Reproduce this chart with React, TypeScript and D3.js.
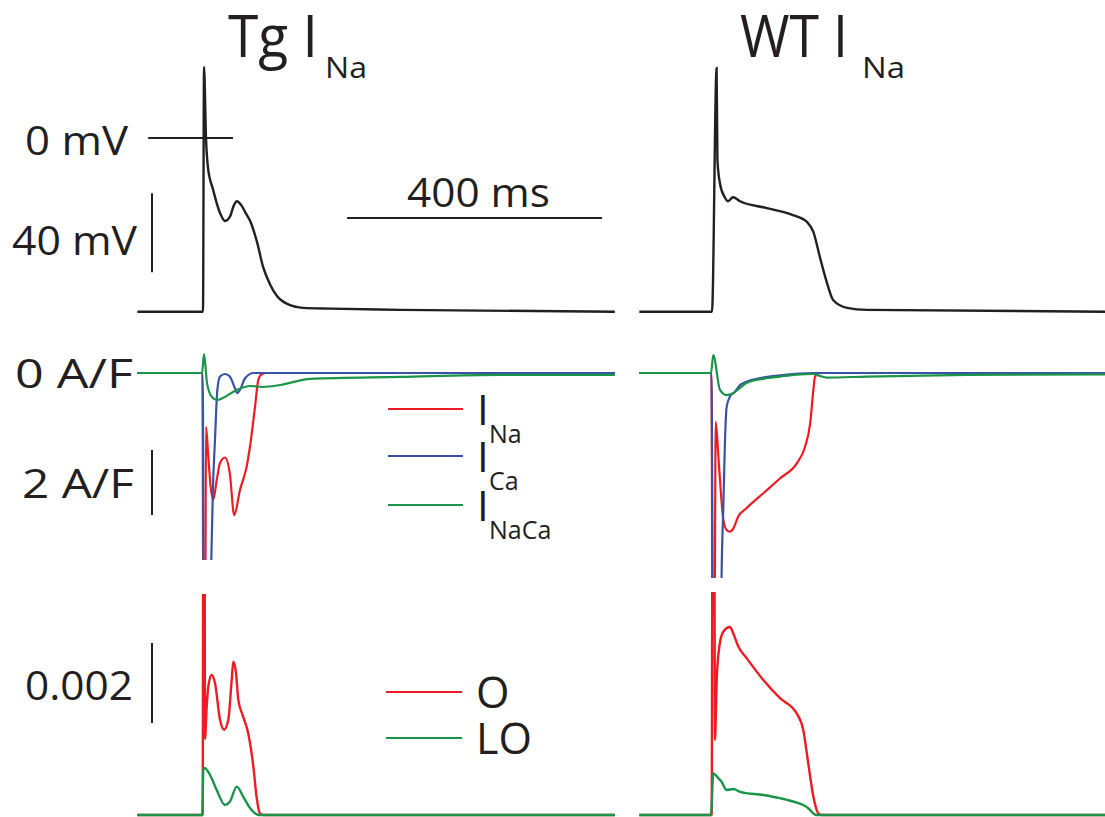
import React from 'react';
import * as d3 from 'd3';

type Pt = [number, number];

// ---- Data (time in ms relative to stimulus, values in mV, A/F, probability) ----
const tgAP: Pt[] = [[-103,-88],[0,-88],[1.6,36],[4.7,0],[7.8,-15],[15.7,-26],[26.7,-38],[34.5,-42],[42,-40],[48.6,-34],[53,-32],[60,-34],[67,-38],[74,-42],[85,-53],[94,-65],[105,-74],[116,-80],[132,-84],[157,-86],[200,-86.4],[309,-87],[646,-88]];
const wtAP: Pt[] = [[-114,-88],[0,-88],[7.2,35.5],[8.5,-11],[12.5,-23],[20,-30],[25,-32],[33,-30],[44,-32],[86,-35.5],[127,-39],[149,-42.5],[159,-47.5],[169,-60],[180,-73],[190,-82],[212,-86],[243,-87],[620,-88]];

const tgINa: Pt[] = [[-103,0],[-0.8,0],[0.5,-8],[3.5,-8],[4.7,-1.66],[8.3,-2.58],[12,-3.5],[16,-3.9],[21.5,-3.3],[26.7,-2.77],[34.5,-2.6],[42,-3.08],[49,-4.37],[58,-3.6],[68.5,-2.88],[73.7,-2.27],[81.6,-1.04],[86.8,-0.21],[92,-0.04],[100,0],[646,0]];
const tgICa: Pt[] = [[-103,0],[-0.5,0],[1.5,-8],[11,-8],[12.5,-6.2],[15.5,-3.6],[18.8,-2.06],[22.5,-0.52],[26.7,-0.11],[34.5,-0.03],[42,-0.11],[50,-0.46],[54,-0.62],[58,-0.52],[66,-0.16],[79,0],[646,0]];
const tgINaCa: Pt[] = [[-103,0],[-1.6,0],[1.6,0.58],[6.3,-0.31],[14,-0.74],[22,-0.83],[31,-0.77],[53,-0.52],[74,-0.4],[94,-0.43],[121,-0.37],[168,-0.18],[309,-0.12],[466,-0.06],[646,-0.06]];

const wtINa: Pt[] = [[-114,0],[-0.8,0],[0.8,-8],[4,-8],[5.8,-1.5],[10,-2.57],[14,-3.7],[17.8,-4.52],[23,-4.83],[28,-4.88],[33.5,-4.78],[41,-4.42],[54,-4.16],[80.5,-3.7],[107,-3.24],[133,-2.78],[146,-2.27],[154,-1.55],[159,-0.52],[161.6,-0.11],[169,0],[620,0]];
const wtICa: Pt[] = [[-114,0],[-0.8,0],[1.6,-8],[14,-8],[15,-6.3],[17.8,-4.1],[20.4,-2.06],[23,-1.04],[28,-0.73],[36,-0.58],[44,-0.37],[54,-0.27],[80,-0.14],[107,-0.07],[158,0],[620,0]];
const wtINaCa: Pt[] = [[-114,0],[-1.6,0],[2,0.55],[12.5,-0.52],[23,-0.68],[33,-0.62],[44,-0.46],[54,-0.31],[80,-0.18],[107,-0.11],[133,-0.05],[158,-0.03],[169,-0.09],[180,-0.14],[243,-0.11],[400,-0.06],[620,-0.04]];

const tgO: Pt[] = [[-103,0],[-0.5,0],[0.5,0.008],[2.5,0.008],[3.1,0.0019],[5.8,0.00271],[8.3,0.00321],[13.6,0.0035],[18.8,0.0033],[26.7,0.00238],[33,0.00213],[39.7,0.00238],[45,0.003375],[47.5,0.00383],[51.8,0.00355],[55.4,0.00288],[63,0.00246],[71,0.00204],[79,0.00121],[84,0.00046],[89,0.00005],[94.6,0],[646,0]];
const tgLO: Pt[] = [[-103,0],[-1,0],[0.5,0.00117],[3.1,0.00117],[11,0.001],[21.5,0.000625],[34.5,0.00025],[42,0.00033],[53,0.00071],[63,0.00046],[74,0.00017],[87,0],[646,0]];
const wtO: Pt[] = [[-114,0],[-0.5,0],[0.8,0.008],[3.5,0.008],[4.7,0.001875],[7.4,0.003375],[11.5,0.00421],[17.7,0.00458],[28.2,0.0047],[33.4,0.00454],[41.3,0.00421],[54.4,0.00392],[80.5,0.003375],[106.7,0.00292],[132.9,0.00254],[143.2,0.002125],[151,0.00129],[159,0.00046],[166.7,0.00004],[172,0],[620,0]];
const wtLO: Pt[] = [[-114,0],[-1.6,0],[2,0.00104],[10,0.00092],[15,0.00083],[23,0.000625],[33.4,0.00065],[44,0.00058],[80.5,0.0005],[106.7,0.00042],[133,0.00031],[143,0.00025],[151,0.00017],[159,0.00004],[164,0],[620,0]];

const titles = ['Tg I', 'WT I'];
const titleSub = 'Na';
const currentLegend = [
  { main: 'I', sub: 'Na', color: '#ed1c24' },
  { main: 'I', sub: 'Ca', color: '#3953a4' },
  { main: 'I', sub: 'NaCa', color: '#1a9448' },
];
const gateLegend = [
  { label: 'O', color: '#ed1c24' },
  { label: 'LO', color: '#1a9448' },
];
const scaleLabels = { v0: '0 mV', v40: '40 mV', t400: '400 ms', i0: '0 A/F', i2: '2 A/F', o: '0.002' };

const RED = '#ed1c24';
const BLUE = '#3953a4';
const GREEN = '#1a9448';
const INK = '#231f20';
const FONT = "'Open Sans', 'DejaVu Sans', sans-serif";

export default function App() {
  const xTg = d3.scaleLinear().domain([0, 400]).range([203, 458]);
  const xWt = d3.scaleLinear().domain([0, 400]).range([712, 967]);
  const yV = d3.scaleLinear().domain([0, -40]).range([138, 217]);
  const yI = d3.scaleLinear().domain([0, -2]).range([373, 438]);
  const yO = d3.scaleLinear().domain([0, 0.002]).range([815, 735]);

  const mk = (x: d3.ScaleLinear<number, number>, y: d3.ScaleLinear<number, number>) =>
    d3.line<Pt>().x(d => x(d[0])).y(d => y(d[1])).curve(d3.curveMonotoneX);

  const lTgV = mk(xTg, yV), lWtV = mk(xWt, yV);
  const lTgI = mk(xTg, yI), lWtI = mk(xWt, yI);
  const lTgO = mk(xTg, yO), lWtO = mk(xWt, yO);

  const barX = xTg(-80);
  const adj = 'spacingAndGlyphs';

  return (
    <svg width={1105} height={817} style={{ position: 'absolute', left: 0, top: 0, background: '#fff' }}
      fontFamily={FONT}>
      <defs>
        <clipPath id="cTgI"><rect x={0} y={340} width={630} height={220} /></clipPath>
        <clipPath id="cWtI"><rect x={630} y={340} width={475} height={238} /></clipPath>
        <clipPath id="cTgO"><rect x={0} y={594} width={630} height={223} /></clipPath>
        <clipPath id="cWtO"><rect x={630} y={592} width={475} height={225} /></clipPath>
      </defs>
      <rect x={0} y={0} width={1105} height={817} fill="#fff" />

      {/* Titles */}
      <text x={228} y={57} fontSize={58} fill={INK} textLength={90} lengthAdjust={adj}>{titles[0]}</text>
      <text x={325} y={78} fontSize={30} fill={INK} textLength={42} lengthAdjust={adj}>{titleSub}</text>
      <text x={740} y={57} fontSize={58} fill={INK} textLength={108} lengthAdjust={adj}>{titles[1]}</text>
      <text x={862} y={78} fontSize={30} fill={INK} textLength={43} lengthAdjust={adj}>{titleSub}</text>

      {/* AP traces */}
      <path d={lTgV(tgAP) || ''} fill="none" stroke={INK} strokeWidth={2.4} />
      <path d={lWtV(wtAP) || ''} fill="none" stroke={INK} strokeWidth={2.4} />

      {/* AP scale bars */}
      <line x1={xTg(-86)} x2={xTg(47)} y1={yV(0)} y2={yV(0)} stroke={INK} strokeWidth={2} />
      <line x1={barX} x2={barX} y1={yV(-28)} y2={yV(-68)} stroke={INK} strokeWidth={2} />
      <line x1={xTg(226)} x2={xTg(626)} y1={218} y2={218} stroke={INK} strokeWidth={2} />
      <text x={25} y={155} fontSize={41} fill={INK} textLength={103} lengthAdjust={adj}>{scaleLabels.v0}</text>
      <text x={12} y={255} fontSize={41} fill={INK} textLength={125} lengthAdjust={adj}>{scaleLabels.v40}</text>
      <text x={407} y={207} fontSize={41} fill={INK} textLength={143} lengthAdjust={adj}>{scaleLabels.t400}</text>

      {/* Currents */}
      <g clipPath="url(#cTgI)" fill="none" strokeWidth={2.2}>
        <path d={lTgI(tgINa) || ''} stroke={RED} />
        <path d={lTgI(tgICa) || ''} stroke={BLUE} />
        <path d={lTgI(tgINaCa) || ''} stroke={GREEN} />
      </g>
      <g clipPath="url(#cWtI)" fill="none" strokeWidth={2.2}>
        <path d={lWtI(wtINa) || ''} stroke={RED} />
        <path d={lWtI(wtICa) || ''} stroke={BLUE} />
        <path d={lWtI(wtINaCa) || ''} stroke={GREEN} />
      </g>
      <line x1={barX} x2={barX} y1={yI(-2.37)} y2={yI(-4.37)} stroke={INK} strokeWidth={2} />
      <text x={15} y={388} fontSize={41} fill={INK} textLength={118} lengthAdjust={adj}>{scaleLabels.i0}</text>
      <text x={22} y={498} fontSize={41} fill={INK} textLength={112} lengthAdjust={adj}>{scaleLabels.i2}</text>

      {currentLegend.map((d, i) => {
        const ly = [409, 456, 505][i];
        return (
          <g key={d.sub}>
            <line x1={388} x2={463} y1={ly} y2={ly} stroke={d.color} strokeWidth={2.2} />
            <text x={477} y={ly + 16} fontSize={42} fill={INK}>{d.main}</text>
            <text x={489} y={ly + 34} fontSize={25} fill={INK}>{d.sub}</text>
          </g>
        );
      })}

      {/* Gating */}
      <g clipPath="url(#cTgO)" fill="none" strokeWidth={2.4}>
        <path d={lTgO(tgO) || ''} stroke={RED} />
        <path d={lTgO(tgLO) || ''} stroke={GREEN} />
      </g>
      <g clipPath="url(#cWtO)" fill="none" strokeWidth={2.4}>
        <path d={lWtO(wtO) || ''} stroke={RED} />
        <path d={lWtO(wtLO) || ''} stroke={GREEN} />
      </g>
      <line x1={barX} x2={barX} y1={yO(0.0043)} y2={yO(0.0023)} stroke={INK} strokeWidth={2} />
      <text x={25} y={700} fontSize={41} fill={INK} textLength={108} lengthAdjust={adj}>{scaleLabels.o}</text>

      {gateLegend.map((d, i) => {
        const ly = [692, 738][i];
        return (
          <g key={d.label}>
            <line x1={386} x2={462} y1={ly} y2={ly} stroke={d.color} strokeWidth={2.2} />
            <text x={476} y={ly + 16} fontSize={43} fill={INK}>{d.label}</text>
          </g>
        );
      })}
    </svg>
  );
}
